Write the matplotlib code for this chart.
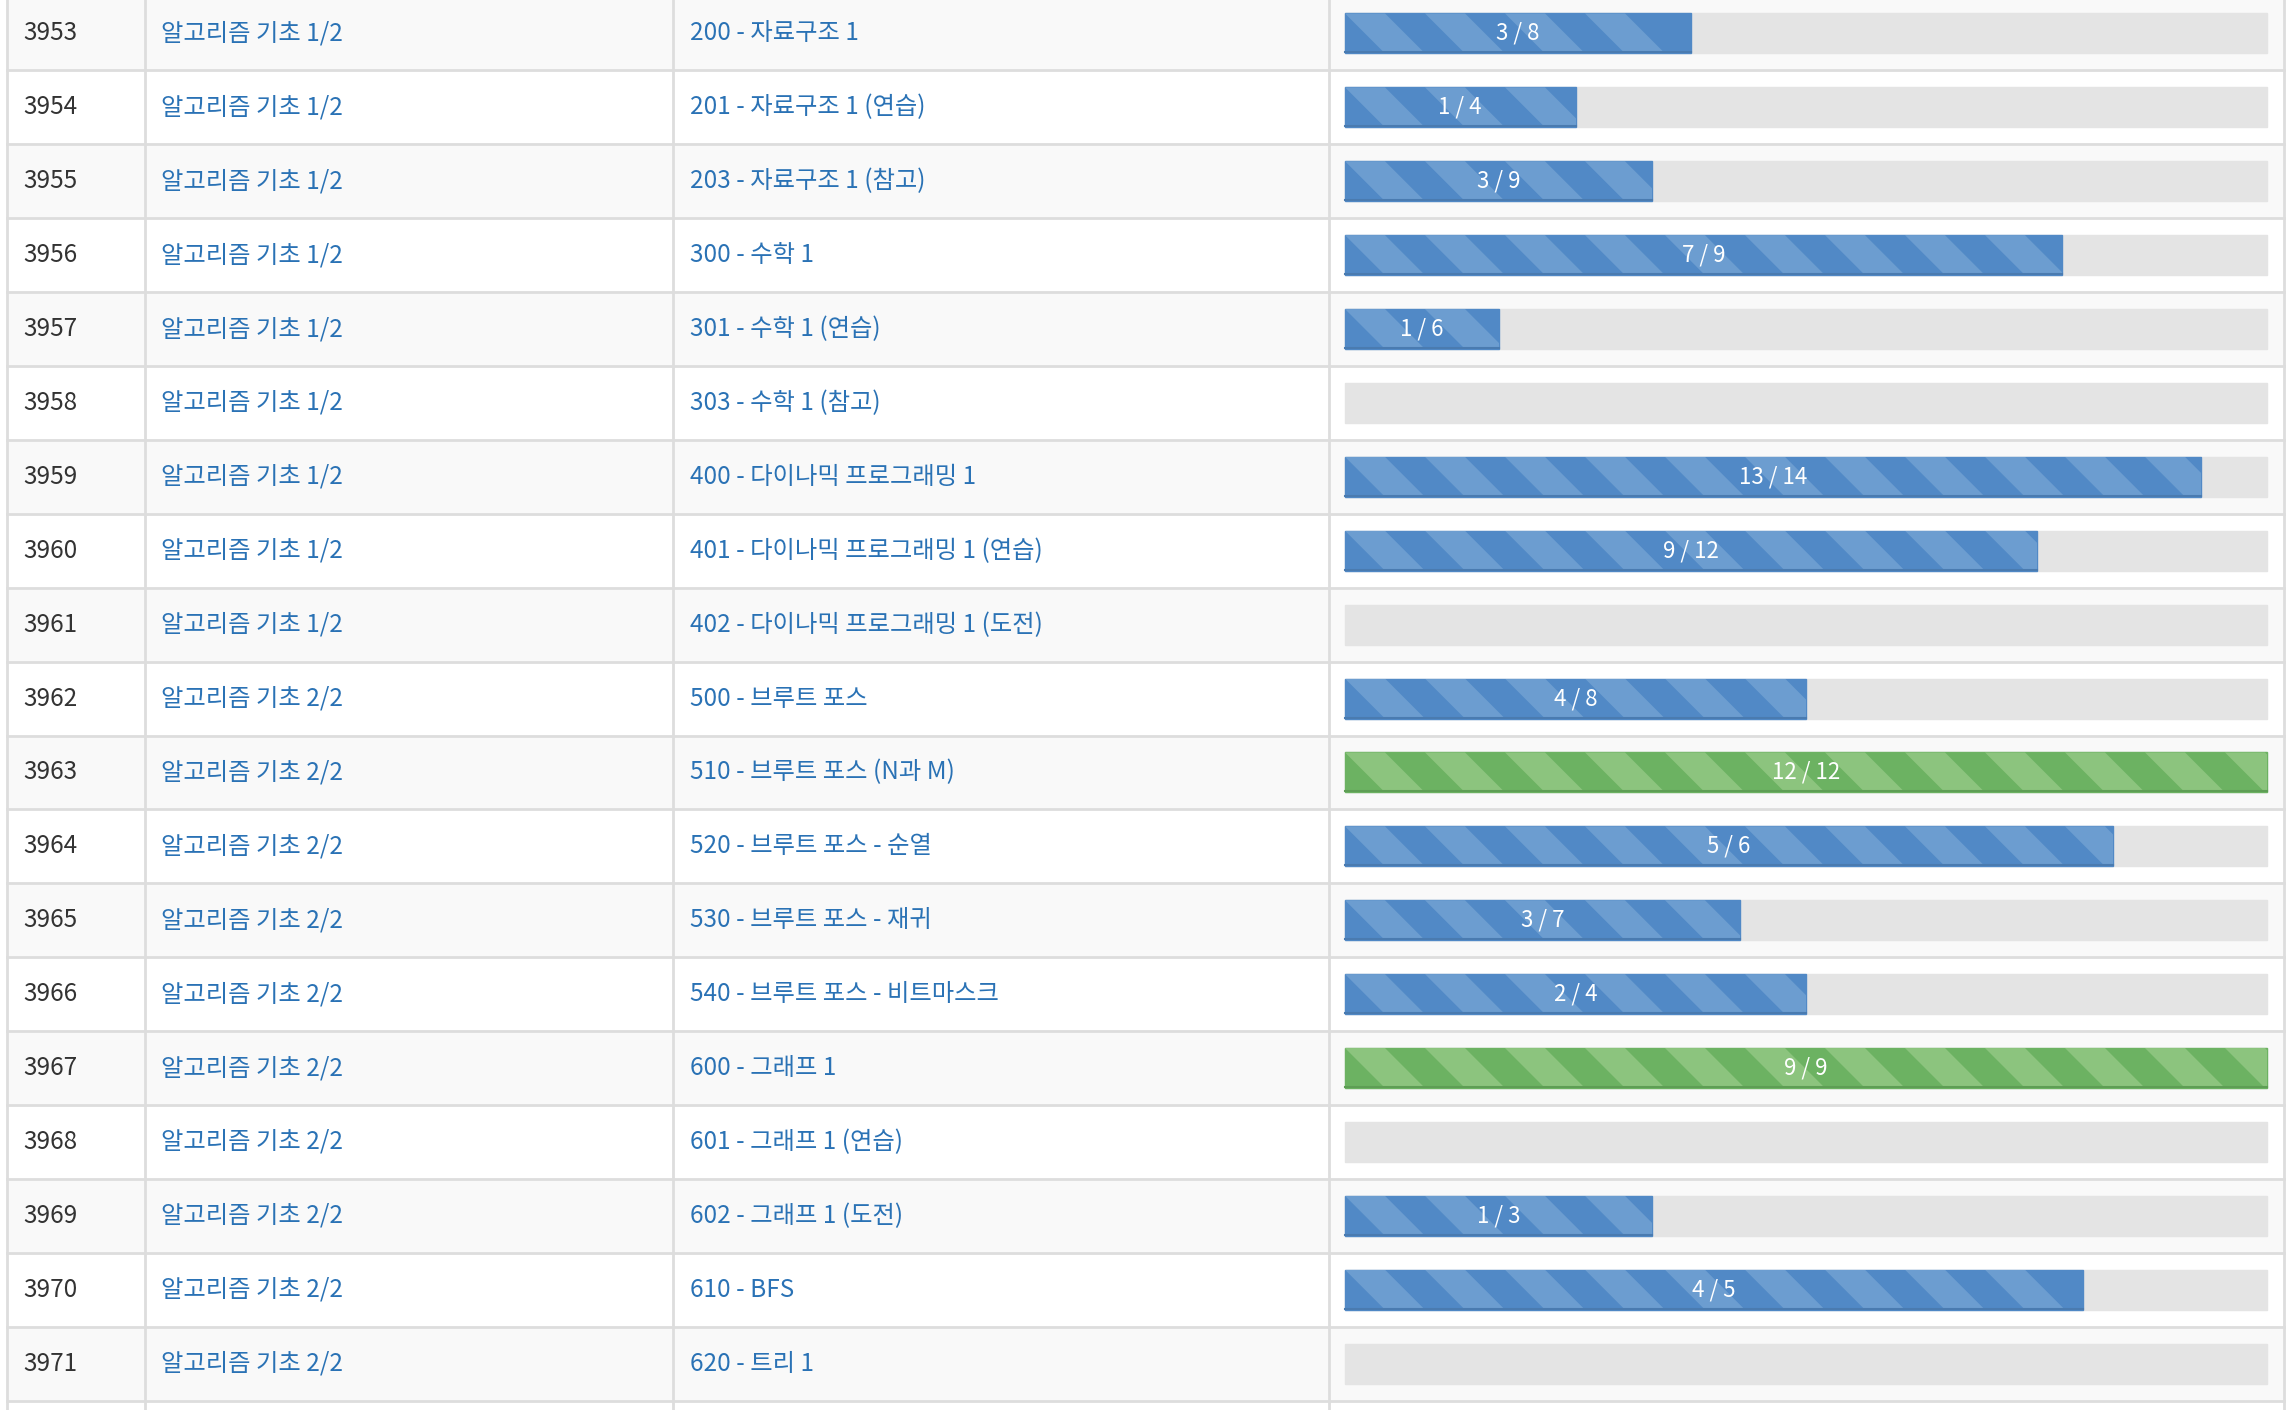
import matplotlib.pyplot as plt
from matplotlib.patches import Rectangle, Polygon

plt.rcParams['font.family'] = ['Noto Sans CJK KR', 'DejaVu Sans']

ids = list(range(3953, 3972))
courses = ['알고리즘 기초 1/2'] * 9 + ['알고리즘 기초 2/2'] * 10
topics = ['200 - 자료구조 1', '201 - 자료구조 1 (연습)', '203 - 자료구조 1 (참고)',
          '300 - 수학 1', '301 - 수학 1 (연습)', '303 - 수학 1 (참고)',
          '400 - 다이나믹 프로그래밍 1', '401 - 다이나믹 프로그래밍 1 (연습)',
          '402 - 다이나믹 프로그래밍 1 (도전)', '500 - 브루트 포스', '510 - 브루트 포스 (N과 M)',
          '520 - 브루트 포스 - 순열', '530 - 브루트 포스 - 재귀', '540 - 브루트 포스 - 비트마스크',
          '600 - 그래프 1', '601 - 그래프 1 (연습)', '602 - 그래프 1 (도전)', '610 - BFS', '620 - 트리 1']
solved = [3, 1, 3, 7, 1, 0, 13, 9, 0, 4, 12, 5, 3, 2, 9, 0, 1, 4, 0]
total = [8, 4, 9, 9, 6, 3, 14, 12, 5, 8, 12, 6, 7, 4, 9, 3, 3, 5, 4]

W, H = 2290, 1410
fig = plt.figure(figsize=(W / 100, H / 100), dpi=100)
ax = fig.add_axes([0, 0, 1, 1])
ax.set_xlim(0, W)
ax.set_ylim(H, 0)
ax.axis('off')

ROW_H = 73.9
TOP = -3.5
COLS = [7, 145, 673, 1329, 2284]
BAR_X0, BAR_X1 = 1345, 2267
BAR_H = 40
LINE = '#dddddd'
LINK = '#2a72b5'

for i in range(len(ids)):
    y0 = TOP + i * ROW_H
    bg = '#f9f9f9' if i % 2 == 0 else 'white'
    ax.add_patch(Rectangle((COLS[0], y0), COLS[-1] - COLS[0], ROW_H, color=bg, zorder=0))
    ax.plot([COLS[0], COLS[-1]], [y0 + ROW_H, y0 + ROW_H], color=LINE, lw=2, zorder=1)
    yc = y0 + ROW_H / 2
    ax.text(23, yc, str(ids[i]), fontsize=17.5, color='#333333', va='center')
    ax.text(161, yc, courses[i], fontsize=17.5, color=LINK, va='center')
    ax.text(690, yc, topics[i], fontsize=17.5, color=LINK, va='center')

    by = yc - BAR_H / 2
    ax.add_patch(Rectangle((BAR_X0, by), BAR_X1 - BAR_X0, BAR_H, color='#e4e4e4', zorder=2))
    if solved[i] > 0:
        frac = solved[i] / total[i]
        bw = (BAR_X1 - BAR_X0) * frac
        done = solved[i] == total[i]
        dark, light = ('#6cb262', '#8cc47e') if done else ('#5189c6', '#6c9dd0')
        bar = Rectangle((BAR_X0, by), bw, BAR_H, color=dark, zorder=3)
        ax.add_patch(bar)
        s = 0
        while s < bw + BAR_H:
            p = Polygon([(BAR_X0 + s - 80, by), (BAR_X0 + s - 40, by),
                         (BAR_X0 + s, by + BAR_H), (BAR_X0 + s - 40, by + BAR_H)],
                        closed=True, color=light, zorder=4, lw=0)
            ax.add_patch(p)
            p.set_clip_path(bar)
            s += 80
        ax.plot([BAR_X0, BAR_X0 + bw], [by + BAR_H - 1, by + BAR_H - 1],
                color='#4a7bb0' if not done else '#5e9e55', lw=1.5, zorder=5)
        ax.text(BAR_X0 + bw / 2, yc, f'{solved[i]} / {total[i]}', fontsize=16,
                color='white', ha='center', va='center', zorder=6)

y_top = TOP
y_end = H
ax.plot([COLS[0], COLS[-1]], [y_top, y_top], color=LINE, lw=2, zorder=1)
for x in COLS:
    ax.plot([x, x], [0, y_end], color=LINE, lw=2, zorder=1)

fig.savefig('out.png', dpi=100, facecolor='white')
